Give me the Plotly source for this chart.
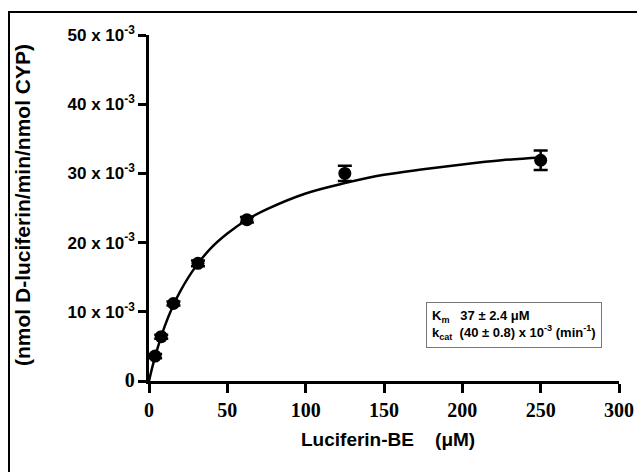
import plotly.graph_objects as go

# Measured data (rate in units of 10^-3 nmol D-luciferin/min/nmol CYP)
substrate_uM = [3.9, 7.8, 15.6, 31.25, 62.5, 125, 250]
rate_e3 = [3.6, 6.4, 11.2, 17.0, 23.3, 30.0, 31.9]
rate_err_e3 = [0.3, 0.3, 0.3, 0.4, 0.4, 1.1, 1.4]

# Fitted curve
curve_x = [0, 2, 5, 10, 15, 20, 30, 40, 50, 62.5, 75, 100, 125, 150, 175, 200, 225, 250]
curve_y_e3 = [0, 1.9, 4.4, 7.9, 10.7, 13.0, 16.6, 19.3, 21.3, 23.3, 24.8, 27.1, 28.6,
              29.8, 30.6, 31.3, 31.9, 32.3]

x_ticks = [0, 50, 100, 150, 200, 250, 300]
y_ticks = [0, 10, 20, 30, 40, 50]

SANS = "Liberation Sans, Arial, sans-serif"
SERIF = "Liberation Serif, Times New Roman, serif"

y_ticktext = [f"<span style='font-family:{SERIF};font-size:20px'><b>0</b></span>"] + \
    [f"<b>{v} x 10<sup>-3</sup></b>" for v in y_ticks[1:]]

W, H = 637, 472
L, T, PW, PH = 149, 35, 470, 346

fig = go.Figure()
fig.add_trace(go.Scatter(x=curve_x, y=curve_y_e3, mode="lines",
                         line=dict(color="black", width=2.5, shape="spline"),
                         hoverinfo="skip", cliponaxis=False))
fig.add_trace(go.Scatter(x=substrate_uM, y=rate_e3, mode="markers",
                         marker=dict(color="black", size=13),
                         error_y=dict(type="data", array=rate_err_e3, color="black",
                                      thickness=2.5, width=7),
                         cliponaxis=False))

def px(x):
    return (x - L) / PW

def py(y):
    return (T + PH - y) / PH

fig.update_layout(
    width=W, height=H,
    margin=dict(l=L, r=W - L - PW, t=T, b=H - T - PH, autoexpand=False),
    paper_bgcolor="white", plot_bgcolor="white",
    showlegend=False,
    xaxis=dict(range=[0, 300], tickvals=x_ticks, ticktext=[f"<b>{v}</b>" for v in x_ticks],
               automargin=False, ticklabeloverflow="allow",
               showgrid=False, zeroline=False, showline=True, linecolor="black",
               linewidth=2.5, ticks="outside", ticklen=9, tickwidth=2.5, tickcolor="black",
               tickfont=dict(family=SERIF, size=20, color="black")),
    yaxis=dict(range=[0, 50], tickvals=y_ticks, ticktext=y_ticktext,
               automargin=False, ticklabeloverflow="allow",
               showgrid=False, zeroline=False, showline=True, linecolor="black",
               linewidth=2.5, ticks="outside", ticklen=8, tickwidth=2.5, tickcolor="black",
               tickfont=dict(family=SANS, size=17, color="black")),
    shapes=[dict(type="rect", xref="paper", yref="paper",
                 x0=px(9), x1=px(660), y0=py(490), y1=py(12),
                 line=dict(color="black", width=2))],
    annotations=[
        dict(text="<b>(nmol D-luciferin/min/nmol CYP)</b>", xref="paper", yref="paper",
             x=px(22), y=py(205), xanchor="center", yanchor="middle",
             textangle=-90, showarrow=False,
             font=dict(family=SANS, size=21, color="black")),
        dict(text="<b>Luciferin-BE&nbsp;&nbsp;&nbsp;&nbsp;(μM)</b>", xref="paper", yref="paper",
             x=px(388), y=py(440), xanchor="center", yanchor="middle", showarrow=False,
             font=dict(family=SANS, size=19, color="black")),
        dict(text="<b>K<sub>m</sub>&nbsp;&nbsp;&nbsp;37 ± 2.4 μM<br>k<sub>cat</sub>&nbsp;&nbsp;(40 ± 0.8) x 10<sup>-3</sup> (min<sup>-1</sup>)</b>",
             xref="paper", yref="paper", x=px(513.5), y=py(325),
             xanchor="center", yanchor="middle",
             showarrow=False, align="left", bordercolor="#777", borderwidth=1,
             bgcolor="white", borderpad=5,
             font=dict(family=SANS, size=13, color="black")),
    ],
)

fig.write_html("out.html", config={"displayModeBar": False},
               post_script="document.body.style.margin='0';document.body.style.overflow='hidden';")
